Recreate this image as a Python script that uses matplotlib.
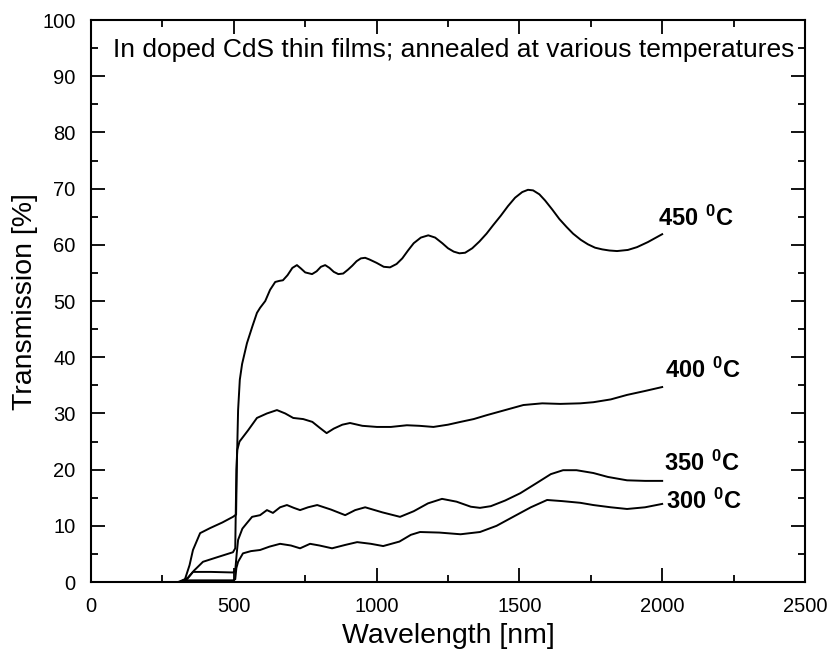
import matplotlib
matplotlib.use("Agg")
import matplotlib.pyplot as plt
from matplotlib.ticker import MultipleLocator

plt.rcParams['font.family'] = ['Liberation Sans', 'DejaVu Sans']
plt.rcParams['mathtext.fontset'] = 'custom'
plt.rcParams['mathtext.rm'] = 'Liberation Sans'
plt.rcParams['mathtext.bf'] = 'Liberation Sans:bold'

# transmission spectra, one pair of lists per annealing temperature
WL_450 = [305, 329, 345, 357, 382, 417, 460, 497, 508, 511, 515, 521, 529,
          546, 565, 581, 592, 610, 627, 645, 660, 672, 688, 705, 721, 735,
          750, 774, 790, 805, 820, 835, 850, 866, 883, 900, 915, 930, 945,
          960, 975, 1000, 1025, 1047, 1070, 1090, 1110, 1130, 1155, 1181,
          1205, 1230, 1250, 1270, 1290, 1310, 1335, 1360, 1385, 1408, 1435,
          1460, 1485, 1510, 1530, 1548, 1570, 1590, 1615, 1640, 1665, 1688,
          1715, 1740, 1765, 1790, 1815, 1842, 1880, 1912, 1950, 2000]
T_450 = [0, 0.5, 3, 5.7, 8.7, 9.6, 10.6, 11.6, 12, 21.7, 30.6, 36, 38.8,
         42.5, 45.5, 47.9, 48.8, 50, 52, 53.4, 53.6, 53.7, 54.6, 55.9, 56.4,
         55.8, 55.1, 54.8, 55.3, 56.1, 56.4, 55.9, 55.2, 54.8, 54.9, 55.6,
         56.3, 57.1, 57.6, 57.7, 57.4, 56.8, 56.1, 56.0, 56.6, 57.6, 59.0,
         60.3, 61.3, 61.7, 61.3, 60.3, 59.4, 58.8, 58.5, 58.6, 59.4, 60.6,
         62.0, 63.5, 65.2, 66.9, 68.4, 69.4, 69.8, 69.7, 69.0, 67.9, 66.3,
         64.6, 63.2, 62.0, 60.9, 60.1, 59.5, 59.2, 59.0, 58.9, 59.1, 59.6,
         60.5, 61.9]

WL_400 = [310, 336, 360, 392, 441, 497, 505, 509, 512, 520, 532, 550, 581,
          616, 651, 680, 708, 743, 775, 802, 825, 850, 880, 907, 950, 1001,
          1050, 1106, 1150, 1199, 1250, 1294, 1340, 1386, 1450, 1514, 1580,
          1643, 1713, 1759, 1820, 1877, 1940, 2000]
T_400 = [0, 0.5, 2, 3.6, 4.4, 5.3, 6, 20, 23.5, 25, 25.8, 27, 29.2,
         30, 30.6, 30, 29.2, 29, 28.5, 27.4, 26.5, 27.3, 28, 28.3, 27.8, 27.6,
         27.6, 27.9, 27.8, 27.6, 28, 28.5, 29, 29.7, 30.6, 31.5, 31.8,
         31.7, 31.8, 32, 32.5, 33.3, 34, 34.7]

WL_350 = [312, 340, 357, 420, 497, 505, 510, 515, 530, 546, 564, 592, 616,
          637, 662, 686, 710, 732, 760, 792, 840, 890, 925, 960, 1020, 1082,
          1130, 1180, 1229, 1280, 1330, 1362, 1400, 1450, 1503, 1560, 1610,
          1653, 1700, 1759, 1810, 1877, 1940, 2000]
T_350 = [0, 0.8, 1.8, 1.8, 1.7, 2, 5, 7.5, 9.5, 10.5, 11.6, 11.9, 12.8,
         12.3, 13.3, 13.7, 13.2, 12.8, 13.3, 13.7, 12.9, 11.9, 12.8, 13.3,
         12.4, 11.6, 12.6, 14, 14.8, 14.3, 13.4, 13.2, 13.5, 14.5, 15.8,
         17.6, 19.2, 19.9, 19.9, 19.4, 18.7, 18.1, 18.0, 18.0]

WL_300 = [315, 340, 497, 505, 509, 515, 532, 560, 592, 625, 662, 700, 732,
          767, 800, 844, 890, 932, 980, 1023, 1080, 1120, 1152, 1220, 1294,
          1362, 1420, 1478, 1540, 1597, 1650, 1713, 1759, 1820, 1877, 1940,
          2000]
T_300 = [0, 0.3, 0.3, 0.5, 2.5, 3.6, 5.1, 5.5, 5.7, 6.3, 6.8, 6.5, 6.0,
         6.8, 6.5, 6.0, 6.6, 7.1, 6.8, 6.4, 7.2, 8.4, 8.9, 8.8, 8.5,
         8.9, 10, 11.6, 13.3, 14.6, 14.4, 14.1, 13.7, 13.3, 13.0, 13.3, 13.9]

LABELS = ['450', '400', '350', '300']
LABEL_POS = [(1986, 64.8), (2010, 37.7), (2006, 21.2), (2012, 14.4)]

fig = plt.figure(figsize=(8.29, 6.49), dpi=100)
ax = fig.add_axes([0.1098, 0.1032, 0.8612, 0.8658])

for wl, tr in [(WL_450, T_450), (WL_400, T_400), (WL_350, T_350), (WL_300, T_300)]:
    ax.plot(wl, tr, color='black', lw=1.4)

for lab, (x, y) in zip(LABELS, LABEL_POS):
    ax.text(x, y, r'$\mathbf{%s\ ^{0}C}$' % lab, fontsize=17, va='center', ha='left')

ax.text(78, 94.6, 'In doped CdS thin films; annealed at various temperatures',
        fontsize=19, va='center', ha='left')

ax.set_xlim(0, 2500)
ax.set_ylim(0, 100)
ax.xaxis.set_major_locator(MultipleLocator(500))
ax.xaxis.set_minor_locator(MultipleLocator(250))
ax.yaxis.set_major_locator(MultipleLocator(10))
ax.yaxis.set_minor_locator(MultipleLocator(5))
ax.tick_params(which='both', direction='in', top=True, right=True, width=1.3,
               labelsize=14.5, pad=11)
ax.tick_params(which='major', length=10)
ax.tick_params(which='minor', length=5)
for sp in ax.spines.values():
    sp.set_linewidth(1.5)

ax.set_xlabel('Wavelength [nm]', fontsize=20.5, labelpad=5)
ax.set_ylabel('Transmission [%]', fontsize=20.5, labelpad=3)

fig.savefig('out.png', dpi=100)
